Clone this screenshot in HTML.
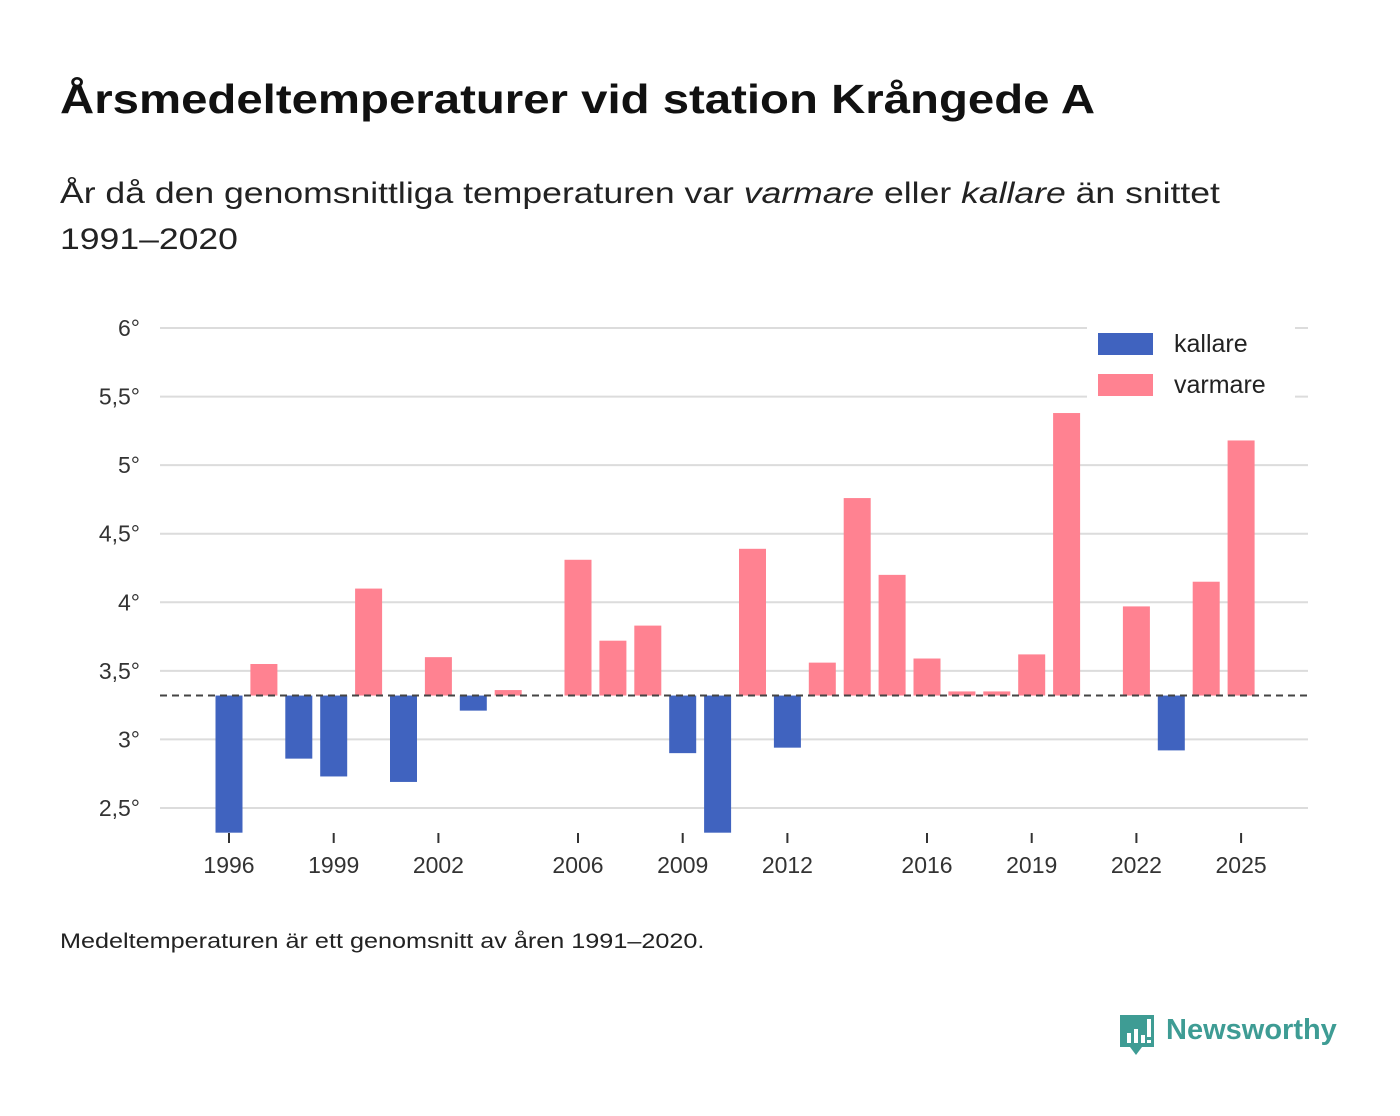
<!DOCTYPE html>
<html><head><meta charset="utf-8"><style>
body{margin:0;background:#fff;font-family:"Liberation Sans",sans-serif;}
#wrap{position:relative;width:1400px;height:1116px;overflow:hidden;}
.sc{display:inline-block;transform-origin:0 50%;white-space:nowrap;}
h1{position:absolute;left:60px;top:76px;margin:0;font-size:41px;font-weight:bold;color:#111;}
.sub{position:absolute;left:60px;top:171px;font-size:30px;color:#222;line-height:46px;}
.foot{position:absolute;left:60px;top:930px;font-size:21px;color:#222;}
</style></head><body><div id="wrap">
<h1><span class="sc" style="transform:scaleX(1.155)">Årsmedeltemperaturer vid station Krångede A</span></h1>
<div class="sub"><span class="sc" style="transform:scaleX(1.185)">År då den genomsnittliga temperaturen var <i>varmare</i> eller <i>kallare</i> än snittet</span><br><span class="sc" style="transform:scaleX(1.185)">1991–2020</span></div>
<svg id="chart" width="1400" height="1116" style="position:absolute;left:0;top:0"></svg>
<div class="foot"><span class="sc" style="transform:scaleX(1.2)">Medeltemperaturen är ett genomsnitt av åren 1991–2020.</span></div>
<svg style="position:absolute;left:1118px;top:1013px" width="38" height="44"><path d="M2 2h34v32H24l-6 8-6-8H2z" fill="#3e9c94"/><rect x="9" y="20" width="4" height="10" fill="#fff"/><rect x="16" y="16" width="4" height="14" fill="#fff"/><rect x="23" y="22" width="4" height="8" fill="#fff"/><rect x="29" y="6" width="4" height="18" fill="#fff"/><rect x="29" y="27" width="4" height="3" fill="#fff"/></svg>
<div style="position:absolute;left:1166px;top:1014px;font-size:29px;font-weight:bold;color:#3e9c94">Newsworthy</div>
</div>
<script>
const years=[1996,1997,1998,1999,2000,2001,2002,2003,2004,2006,2007,2008,2009,2010,2011,2012,2013,2014,2015,2016,2017,2018,2019,2020,2022,2023,2024,2025];
const temps=[2.32,3.55,2.86,2.73,4.10,2.69,3.60,3.21,3.36,4.31,3.72,3.83,2.90,2.32,4.39,2.94,3.56,4.76,4.20,3.59,3.35,3.35,3.62,5.38,3.97,2.92,4.15,5.18];
const baseline=3.32;
const yTicks=[2.5,3,3.5,4,4.5,5,5.5,6];
const yTickLabels=["2,5°","3°","3,5°","4°","4,5°","5°","5,5°","6°"];
const xTicks=[1996,1999,2002,2006,2009,2012,2016,2019,2022,2025];
const NS="http://www.w3.org/2000/svg",svg=document.getElementById('chart');
const x=v=>229+(v-1996)*34.9, y=v=>808-(v-2.5)*137.14;
const yMin=2.32;
function mk(t,a,p){const e=document.createElementNS(NS,t);for(const k in a)e.setAttribute(k,a[k]);(p||svg).appendChild(e);return e;}
yTicks.forEach((t,i)=>{const l=mk('line',{x1:160,x2:1308,y1:y(t),y2:y(t),stroke:'#dcdcdc','stroke-width':2});


const tx=mk('text',{x:140,y:y(t)+8,'text-anchor':'end','font-size':23,fill:'#333','font-family':'Liberation Sans'});tx.textContent=yTickLabels[i];

});
xTicks.forEach(t=>{const l=mk('line',{x1:x(t),x2:x(t),y1:833,y2:843,stroke:'#333','stroke-width':2});


const tx=mk('text',{x:x(t),y:873,'text-anchor':'middle','font-size':23,fill:'#333','font-family':'Liberation Sans'});tx.textContent=t;

});
years.forEach((yr,i)=>{const v=Math.max(temps[i],yMin);const top=Math.min(y(v),y(baseline)),h=Math.abs(y(v)-y(baseline));
const r=mk('rect',{x:x(yr)-13.5,y:top,width:27,height:h,fill:temps[i]<baseline?'#4063bf':'#ff8291'});

});
const d=mk('line',{x1:160,x2:1308,y1:y(baseline),y2:y(baseline),stroke:'#444','stroke-width':2,'stroke-dasharray':'7,5'});


const g=mk('g',{});


mk('rect',{x:1087,y:323,width:208,height:77,fill:'#fff'},g);
[['kallare','#4063bf',333],['varmare','#ff8291',374]].forEach(([n,c,yy])=>{
const r=mk('rect',{x:1098,y:yy,width:55,height:22,fill:c},g);


const t=mk('text',{x:1174,y:yy+19,'font-size':25,fill:'#222','font-family':'Liberation Sans'},g);t.textContent=n;

});
</script></body></html>
